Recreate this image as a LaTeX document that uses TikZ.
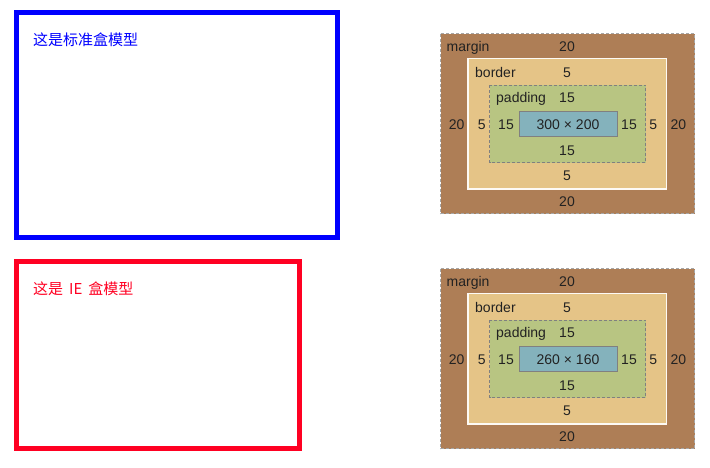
\documentclass[tikz,border=0pt]{standalone}
\usepackage{fontspec}
\setmainfont{Liberation Sans}
\newfontfamily\cjk{Noto Sans CJK SC}

\definecolor{stdblue}{RGB}{0,0,255}
\definecolor{iered}{RGB}{255,0,34}
\definecolor{marginbrown}{RGB}{174,126,86}
\definecolor{borderbeige}{RGB}{229,196,135}
\definecolor{paddinggreen}{RGB}{184,197,130}
\definecolor{contentteal}{RGB}{132,178,188}
\definecolor{dashgray}{RGB}{128,128,128}
\definecolor{labeldark}{RGB}{34,34,34}

\tikzset{
  outerbox/.style={line width=5pt},
  title/.style={font=\cjk\fontsize{15}{18}\selectfont, anchor=west, inner sep=0pt,
    text height=12pt, text depth=1.5pt},
  marginbox/.style={fill=marginbrown, draw=dashgray!70, dash pattern=on 3pt off 2pt, line width=0.8pt},
  borderbox/.style={fill=borderbeige, draw=white!92!borderbeige, line width=1.5pt},
  paddingbox/.style={fill=paddinggreen, draw=dashgray, dash pattern=on 3pt off 2pt, line width=0.8pt},
  contentbox/.style={fill=contentteal, draw=gray, line width=1pt},
  lbl/.style={font=\fontsize{14}{16}\selectfont, text=labeldark, inner sep=0pt,
    text height=10pt, text depth=0pt}
}

% one box model panel: #1 name prefix, #2 shift down, #3 content size
\newcommand{\boxmodel}[3]{%
  \begin{scope}[yshift=-#2pt]
    \draw[marginbox] (440.5,33.5) rectangle (694.5,213.5);
    \draw[borderbox] (468,58.5) rectangle (666.5,189);
    \draw[paddingbox] (489.5,85) rectangle (645.5,162.5);
    \draw[contentbox] (519,111) rectangle (617,136.5);
    % labels
    \node[lbl, anchor=west] (#1-margin) at (446.5,46.7) {margin};
    \node[lbl] (#1-mt) at (567,46.7) {20};
    \node[lbl, anchor=west] (#1-border) at (475,72.3) {border};
    \node[lbl] (#1-bt) at (567,72.3) {5};
    \node[lbl, anchor=west] (#1-padding) at (496,97.7) {padding};
    \node[lbl] (#1-pt) at (567,97.7) {15};
    \node[lbl] (#1-ml) at (456.7,124) {20};
    \node[lbl] (#1-bl) at (481.7,124) {5};
    \node[lbl] (#1-pl) at (506,124) {15};
    \node[lbl] (#1-size) at (568,124) {#3};
    \node[lbl] (#1-pr) at (629,124) {15};
    \node[lbl] (#1-br) at (653.3,124) {5};
    \node[lbl] (#1-mr) at (678.3,124) {20};
    \node[lbl] (#1-pb) at (567,150) {15};
    \node[lbl] (#1-bb) at (567,175.7) {5};
    \node[lbl] (#1-mb) at (567,201.7) {20};
  \end{scope}}

\begin{document}
\begin{tikzpicture}[x=1pt, y=-1pt]
  \useasboundingbox (0,0) rectangle (710,467);

  % standard box model
  \draw[outerbox, stdblue] (16.5,12.5) rectangle (337.5,237.5);
  \node[title, text=stdblue] (stdtitle) at (33,40) {这是标准盒模型};
  \boxmodel{std}{0}{300 × 200}

  % IE box model
  \draw[outerbox, iered] (16.5,261.8) rectangle (299.5,448.5);
  \node[title, text=iered] (ietitle) at (33,289) {这是\hspace{6pt}IE\hspace{6pt}盒模型};
  \boxmodel{ie}{235}{260 × 160}
\end{tikzpicture}
\end{document}
